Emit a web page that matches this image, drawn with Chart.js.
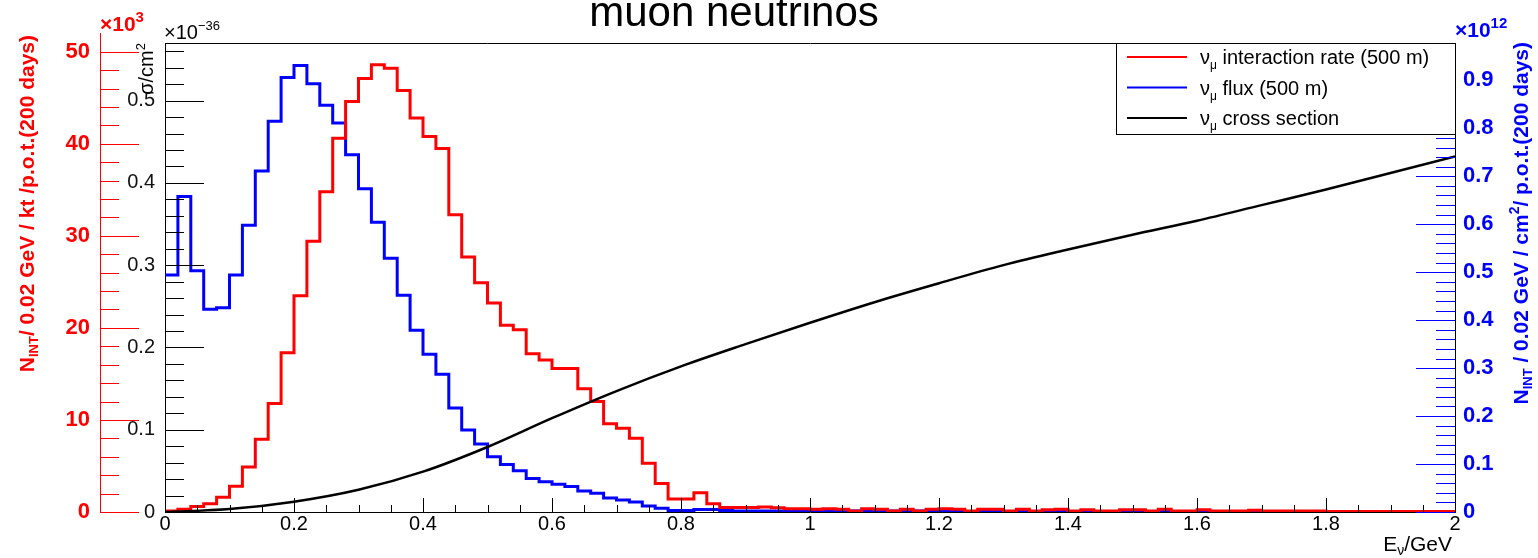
<!DOCTYPE html>
<html>
<head>
<meta charset="utf-8">
<title>muon neutrinos</title>
<script src="https://cdn.jsdelivr.net/npm/chart.js@4.4.1/dist/chart.umd.min.js"></script>
<style>
  html, body { margin: 0; padding: 0; background: #fff; }
  #wrap { width: 1538px; height: 558px; }
</style>
</head>
<body>
<div id="wrap"><canvas id="nuChart" width="1538" height="558"></canvas></div>
<script>
const BIN_WIDTH = 0.02; // GeV
const E_MAX = 2;

// nu_mu interaction rate, 10^3 per 0.02 GeV bin
const rateValues = [
  0.1, 0.3, 0.6, 0.9, 1.6, 2.8, 4.9, 7.9, 11.8, 17.3,
  23.5, 29.4, 34.8, 40.6, 44.6, 47.1, 48.6, 48.2, 45.8, 42.8,
  40.8, 39.5, 32.3, 27.7, 24.9, 22.7, 20.3, 19.8, 17.2, 16.5,
  15.6, 15.6, 13.4, 12.0, 9.6, 9.1, 8.0, 5.3, 3.1, 1.4,
  1.4, 2.1, 0.9, 0.5, 0.5, 0.5, 0.55, 0.45, 0.35, 0.35,
  0.3, 0.35, 0.3, 0.1, 0.35, 0.3, 0.1, 0.3, 0.1, 0.3,
  0.35, 0.3, 0.1, 0.3, 0.3, 0.1, 0.3, 0.1, 0.25, 0.3,
  0.1, 0.25, 0.1, 0.1, 0.25, 0.25, 0.1, 0.3, 0.1, 0.1,
  0.25, 0.1, 0.1, 0.1, 0.2, 0.1, 0.1, 0.1, 0.1, 0.1,
  0.05, 0.05, 0.05, 0.05, 0.05, 0.05, 0.05, 0.05, 0.05, 0.05
];

// nu_mu flux, 10^12 per 0.02 GeV bin
const fluxValues = [
  0.494, 0.658, 0.503, 0.423, 0.426, 0.494, 0.598, 0.711, 0.815, 0.906,
  0.931, 0.893, 0.848, 0.811, 0.745, 0.674, 0.604, 0.529, 0.452, 0.379,
  0.329, 0.287, 0.217, 0.171, 0.142, 0.115, 0.099, 0.086, 0.070, 0.063,
  0.058, 0.053, 0.044, 0.039, 0.029, 0.025, 0.021, 0.0125, 0.0077, 0.003,
  0.003, 0.005, 0.005, 0.003, 0.002, 0.002, 0.002, 0.002, 0.002, 0.002,
  0.002, 0.002, 0.002, 0.002, 0.002, 0.002, 0.002, 0.002, 0.002, 0.002,
  0.001, 0.001, 0.001, 0.001, 0.001, 0.001, 0.001, 0.001, 0.001, 0.001,
  0.001, 0.001, 0.001, 0.001, 0.001, 0.001, 0.001, 0.001, 0.001, 0.001,
  0.001, 0.001, 0.001, 0.001, 0.001, 0.001, 0.001, 0.001, 0.001, 0.001,
  0.001, 0.001, 0.001, 0.001, 0.001, 0.001, 0.001, 0.001, 0.001, 0.001
];

// nu_mu cross section, 10^-36 cm^2
const xsecEnergy = [0, 0.1, 0.2, 0.3, 0.4, 0.5, 0.6, 0.7, 0.8, 0.9, 1.0,
  1.1, 1.2, 1.3, 1.4, 1.5, 1.6, 1.7, 1.8, 1.9, 2.0];
const xsecValues = [0, 0.0036, 0.0125, 0.027, 0.049, 0.079, 0.114, 0.147, 0.177, 0.204, 0.230,
  0.255, 0.278, 0.300, 0.319, 0.337, 0.354, 0.373, 0.392, 0.412, 0.432];

const seriesLabels = ['interaction rate (500 m)', 'flux (500 m)', 'cross section'];

// tick labels
const xTickValues = [0, 0.2, 0.4, 0.6, 0.8, 1, 1.2, 1.4, 1.6, 1.8, 2];
const xTickLabels = ['0', '0.2', '0.4', '0.6', '0.8', '1', '1.2', '1.4', '1.6', '1.8', '2'];
const rateTickValues = [0, 10, 20, 30, 40, 50];
const rateTickLabels = ['0', '10', '20', '30', '40', '50'];
const xsecTickValues = [0, 0.1, 0.2, 0.3, 0.4, 0.5];
const xsecTickLabels = ['0', '0.1', '0.2', '0.3', '0.4', '0.5'];
const fluxTickValues = [0, 0.1, 0.2, 0.3, 0.4, 0.5, 0.6, 0.7, 0.8, 0.9];
const fluxTickLabels = ['0', '0.1', '0.2', '0.3', '0.4', '0.5', '0.6', '0.7', '0.8', '0.9'];

const FONT = 'Liberation Sans, Arial, Helvetica, sans-serif';
const RED = '#ff0000';
const BLUE = '#0000ff';

const majorIndex = (values, v) => values.findIndex((m) => Math.abs(m - v) < 1e-6);
const labelFor = (values, labels) => (v) => {
  const k = majorIndex(values, v);
  return k >= 0 ? labels[k] : '';
};

// one point per bin low edge, plus the closing edge; drawn with step-before
const toSteps = (values) => {
  const pts = values.map((v, i) => ({ x: +(i * BIN_WIDTH).toFixed(2), y: v }));
  pts.push({ x: E_MAX, y: values[values.length - 1] });
  return pts;
};

/* -----------------------------
   Text helper (sub/superscripts)
------------------------------ */

function drawRich(ctx, parts, x, y, align) {
  let total = 0;
  parts.forEach((p) => {
    ctx.font = p.font;
    p.w = ctx.measureText(p.text).width;
    total += p.w;
  });
  let cx = align === 'right' ? x - total : align === 'center' ? x - total / 2 : x;
  ctx.textAlign = 'left';
  ctx.textBaseline = 'alphabetic';
  parts.forEach((p) => {
    ctx.font = p.font;
    ctx.fillText(p.text, cx, y + (p.dy || 0));
    cx += p.w;
  });
}

function drawAxisTicks(ctx, scale, majors, o) {
  ctx.strokeStyle = o.color;
  ctx.lineWidth = 1;
  ctx.beginPath();
  scale.ticks.forEach((t) => {
    const len = majorIndex(majors, t.value) >= 0 ? o.major : o.minor;
    const p = Math.round(scale.getPixelForValue(t.value)) + 0.5;
    if (o.vertical) {
      ctx.moveTo(o.base, p);
      ctx.lineTo(o.base + o.dir * len, p);
    } else {
      ctx.moveTo(p, o.base);
      ctx.lineTo(p, o.base + o.dir * len);
    }
  });
  ctx.stroke();
}

/* -----------------------------
   ROOT style frame, ticks, legend, titles
------------------------------ */

const rootFrame = {
  id: 'rootFrame',
  afterDraw(chart) {
    const { ctx, chartArea: a, scales } = chart;
    const rs = scales.yRate;
    const ss = scales.yXsec;
    const fs = scales.yFlux;
    const xs = scales.x;
    ctx.save();

    // frame top
    ctx.strokeStyle = '#000';
    ctx.lineWidth = 1;
    ctx.beginPath();
    ctx.moveTo(a.left, a.top + 0.5);
    ctx.lineTo(a.right + 1, a.top + 0.5);
    ctx.stroke();

    // red axis reaches above the frame
    ctx.strokeStyle = RED;
    ctx.beginPath();
    ctx.moveTo(Math.round(rs.right) + 0.5, 33);
    ctx.lineTo(Math.round(rs.right) + 0.5, a.top + 1);
    ctx.stroke();

    drawAxisTicks(ctx, rs, rateTickValues, { color: RED, base: rs.right, dir: 1, major: 39, minor: 19, vertical: true });
    drawAxisTicks(ctx, ss, xsecTickValues, { color: '#000', base: ss.right, dir: 1, major: 39, minor: 19, vertical: true });
    drawAxisTicks(ctx, fs, fluxTickValues, { color: BLUE, base: fs.left, dir: -1, major: 39, minor: 19, vertical: true });
    drawAxisTicks(ctx, xs, xTickValues, { color: '#000', base: xs.top, dir: -1, major: 14, minor: 7, vertical: false });

    // legend
    const lw = 339;
    const lh = 91;
    const lx = Math.round(a.right) - lw;
    const ly = Math.round(a.top);
    ctx.fillStyle = '#fff';
    ctx.fillRect(lx, ly, lw, lh);
    ctx.strokeStyle = '#000';
    ctx.lineWidth = 1;
    ctx.strokeRect(lx + 0.5, ly + 0.5, lw, lh);
    chart.data.datasets.forEach((ds, i) => {
      const cy = ly + 14 + i * 30.5;
      ctx.strokeStyle = ds.borderColor;
      ctx.lineWidth = 2;
      ctx.beginPath();
      ctx.moveTo(lx + 11, cy);
      ctx.lineTo(lx + 71, cy);
      ctx.stroke();
      ctx.fillStyle = '#000';
      drawRich(ctx, [
        { text: 'ν', font: `20px ${FONT}` },
        { text: 'μ', font: `12px ${FONT}`, dy: 5 },
        { text: ' ' + ds.label, font: `20px ${FONT}` },
      ], lx + 84, cy + 7, 'left');
    });

    // title
    ctx.fillStyle = '#000';
    ctx.font = `42px ${FONT}`;
    ctx.textAlign = 'center';
    ctx.textBaseline = 'alphabetic';
    ctx.fillText('muon neutrinos', 734, 26);

    // exponent labels
    ctx.fillStyle = RED;
    drawRich(ctx, [
      { text: '×10', font: `bold 21px ${FONT}` },
      { text: '3', font: `bold 15px ${FONT}`, dy: -9 },
    ], 100, 31, 'left');
    ctx.fillStyle = '#000';
    drawRich(ctx, [
      { text: '×10', font: `20px ${FONT}` },
      { text: '−36', font: `13px ${FONT}`, dy: -9 },
    ], 164, 39, 'left');
    ctx.fillStyle = BLUE;
    drawRich(ctx, [
      { text: '×10', font: `bold 21px ${FONT}` },
      { text: '12', font: `bold 15px ${FONT}`, dy: -9 },
    ], 1455, 37, 'left');

    // x title
    ctx.fillStyle = '#000';
    drawRich(ctx, [
      { text: 'E', font: `21px ${FONT}` },
      { text: 'ν', font: `14px ${FONT}`, dy: 4 },
      { text: '/GeV', font: `21px ${FONT}` },
    ], 1452, 551, 'right');

    // rotated y titles
    const rotated = (x, y, color, parts) => {
      ctx.save();
      ctx.translate(x, y);
      ctx.rotate(-Math.PI / 2);
      ctx.fillStyle = color;
      drawRich(ctx, parts, 0, 0, 'right');
      ctx.restore();
    };
    rotated(34, 35, RED, [
      { text: 'N', font: `bold 21px ${FONT}` },
      { text: 'INT', font: `bold 13px ${FONT}`, dy: 4 },
      { text: '/ 0.02 GeV / kt /p.o.t.(200 days)', font: `bold 21px ${FONT}` },
    ]);
    rotated(1528, 42, BLUE, [
      { text: 'N', font: `bold 21px ${FONT}` },
      { text: 'INT', font: `bold 13px ${FONT}`, dy: 4 },
      { text: ' / 0.02 GeV / cm', font: `bold 21px ${FONT}` },
      { text: '2', font: `bold 14px ${FONT}`, dy: -9 },
      { text: '/ p.o.t.(200 days)', font: `bold 21px ${FONT}` },
    ]);
    rotated(153, 43, '#000', [
      { text: 'σ/cm', font: `20px ${FONT}` },
      { text: '2', font: `13px ${FONT}`, dy: -8 },
    ]);

    ctx.restore();
  },
};

function yScale(o) {
  return {
    type: 'linear',
    position: o.position,
    weight: o.weight,
    min: 0,
    max: o.max,
    afterFit: (s) => { s.width = o.width; },
    grid: { display: false, drawTicks: false },
    border: { display: true, color: o.borderColor, width: 1 },
    ticks: {
      stepSize: o.step,
      includeBounds: false,
      autoSkip: false,
      padding: o.pad,
      color: o.color,
      font: o.font,
      callback: labelFor(o.values, o.labels),
    },
  };
}

const chart = new Chart(document.getElementById('nuChart'), {
  type: 'line',
  data: {
    datasets: [
      {
        label: seriesLabels[0],
        data: toSteps(rateValues),
        yAxisID: 'yRate',
        borderColor: RED,
        borderWidth: 3,
        stepped: 'before',
        pointRadius: 0,
        fill: false,
        order: 2,
      },
      {
        label: seriesLabels[1],
        data: toSteps(fluxValues),
        yAxisID: 'yFlux',
        borderColor: BLUE,
        borderWidth: 3,
        stepped: 'before',
        pointRadius: 0,
        fill: false,
        order: 3,
      },
      {
        label: seriesLabels[2],
        data: xsecEnergy.map((e, i) => ({ x: e, y: xsecValues[i] })),
        yAxisID: 'yXsec',
        borderColor: '#000',
        borderWidth: 2.5,
        cubicInterpolationMode: 'monotone',
        pointRadius: 0,
        fill: false,
        order: 1,
      },
    ],
  },
  options: {
    responsive: false,
    animation: false,
    devicePixelRatio: 1,
    layout: { padding: { top: 43, left: 0, right: 0, bottom: 0 } },
    plugins: {
      legend: { display: false },
      title: { display: false },
      tooltip: { enabled: false },
    },
    scales: {
      x: {
        type: 'linear',
        min: 0,
        max: E_MAX,
        afterFit: (s) => { s.height = 46; },
        grid: { display: false, drawTicks: false },
        border: { display: true, color: '#000', width: 1 },
        ticks: {
          stepSize: 0.05,
          includeBounds: false,
          autoSkip: false,
          maxRotation: 0,
          padding: 0,
          color: '#000',
          font: { family: FONT, size: 20 },
          callback: labelFor(xTickValues, xTickLabels),
        },
      },
      yRate: yScale({
        position: 'left', weight: 1, max: 50.95, width: 100, step: 2, pad: 10,
        borderColor: RED, color: RED, font: { family: FONT, size: 22, weight: 'bold' },
        values: rateTickValues, labels: rateTickLabels,
      }),
      yXsec: yScale({
        position: 'left', weight: 0, max: 0.570, width: 65, step: 0.02, pad: 10,
        borderColor: '#000', color: '#111', font: { family: FONT, size: 20 },
        values: xsecTickValues, labels: xsecTickLabels,
      }),
      yFlux: yScale({
        position: 'right', weight: 0, max: 0.978, width: 83, step: 0.02, pad: 8,
        borderColor: '#000', color: BLUE, font: { family: FONT, size: 22, weight: 'bold' },
        values: fluxTickValues, labels: fluxTickLabels,
      }),
    },
  },
  plugins: [rootFrame],
});
</script>
</body>
</html>
